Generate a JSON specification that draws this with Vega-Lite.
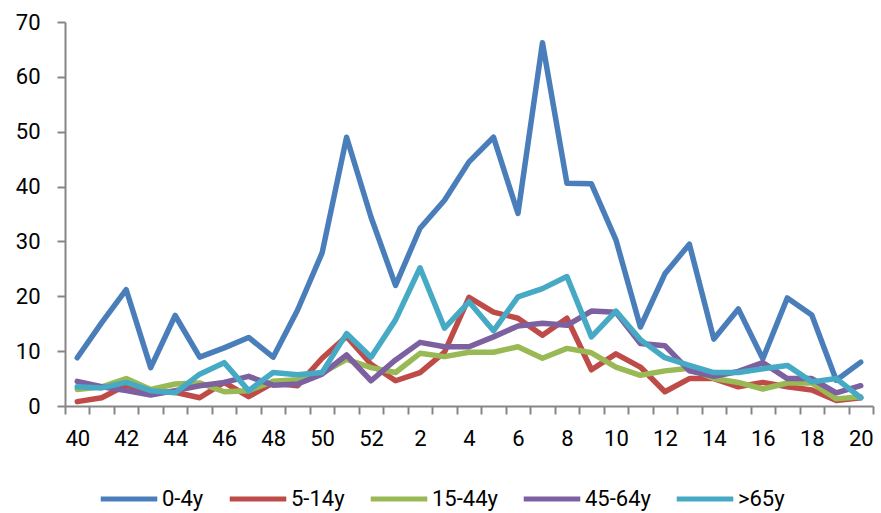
{
  "$schema": "https://vega.github.io/schema/vega-lite/v6.json",
  "width": 808,
  "height": 384,
  "autosize": {"type": "none"},
  "padding": {"left": 65, "top": 22, "right": 8, "bottom": 107},
  "background": "white",
  "config": {
    "view": {"stroke": null},
    "font": "Roboto, sans-serif",
    "axis": {
      "labelFont": "Roboto, sans-serif",
      "labelFontSize": 22,
      "labelColor": "#000000",
      "domainColor": "#868686",
      "domainWidth": 2,
      "tickColor": "#868686",
      "tickWidth": 2,
      "tickSize": 8,
      "grid": false,
      "title": null
    },
    "legend": {
      "labelFont": "Roboto, sans-serif",
      "labelFontSize": 22,
      "labelColor": "#000000"
    }
  },
  "data": {
    "values": [
      {"week": 40, "0-4y": 8.8, "5-14y": 0.8, "15-44y": 3.0, "45-64y": 4.5, ">65y": 3.5},
      {"week": 41, "0-4y": 15.2, "5-14y": 1.5, "15-44y": 3.5, "45-64y": 3.5, ">65y": 3.3},
      {"week": 42, "0-4y": 21.2, "5-14y": 3.8, "15-44y": 5.0, "45-64y": 2.8, ">65y": 4.3},
      {"week": 43, "0-4y": 7.0, "5-14y": 2.5, "15-44y": 3.0, "45-64y": 2.0, ">65y": 2.8},
      {"week": 44, "0-4y": 16.5, "5-14y": 2.5, "15-44y": 4.0, "45-64y": 2.8, ">65y": 2.4},
      {"week": 45, "0-4y": 8.9, "5-14y": 1.5, "15-44y": 4.2, "45-64y": 3.7, ">65y": 5.8},
      {"week": 46, "0-4y": 10.6, "5-14y": 4.3, "15-44y": 2.6, "45-64y": 4.3, ">65y": 7.9},
      {"week": 47, "0-4y": 12.5, "5-14y": 1.7, "15-44y": 2.8, "45-64y": 5.4, ">65y": 2.8},
      {"week": 48, "0-4y": 8.9, "5-14y": 4.2, "15-44y": 4.5, "45-64y": 3.8, ">65y": 6.1},
      {"week": 49, "0-4y": 17.5, "5-14y": 3.7, "15-44y": 4.8, "45-64y": 4.0, ">65y": 5.7},
      {"week": 50, "0-4y": 27.9, "5-14y": 8.7, "15-44y": 6.0, "45-64y": 5.8, ">65y": 6.1},
      {"week": 51, "0-4y": 49.0, "5-14y": 12.7, "15-44y": 8.5, "45-64y": 9.3, ">65y": 13.2},
      {"week": 52, "0-4y": 34.4, "5-14y": 7.6, "15-44y": 7.0, "45-64y": 4.6, ">65y": 8.9},
      {"week": 1, "0-4y": 22.0, "5-14y": 4.6, "15-44y": 6.1, "45-64y": 8.4, ">65y": 15.7},
      {"week": 2, "0-4y": 32.4, "5-14y": 6.1, "15-44y": 9.6, "45-64y": 11.6, ">65y": 25.2},
      {"week": 3, "0-4y": 37.5, "5-14y": 9.8, "15-44y": 9.0, "45-64y": 10.8, ">65y": 14.2},
      {"week": 4, "0-4y": 44.5, "5-14y": 19.8, "15-44y": 9.8, "45-64y": 10.8, ">65y": 19.0},
      {"week": 5, "0-4y": 49.0, "5-14y": 17.1, "15-44y": 9.8, "45-64y": 12.6, ">65y": 13.7},
      {"week": 6, "0-4y": 35.1, "5-14y": 16.0, "15-44y": 10.8, "45-64y": 14.6, ">65y": 19.9},
      {"week": 7, "0-4y": 66.2, "5-14y": 12.9, "15-44y": 8.7, "45-64y": 15.1, ">65y": 21.4},
      {"week": 8, "0-4y": 40.6, "5-14y": 16.0, "15-44y": 10.5, "45-64y": 14.7, ">65y": 23.6},
      {"week": 9, "0-4y": 40.5, "5-14y": 6.6, "15-44y": 9.7, "45-64y": 17.3, ">65y": 12.6},
      {"week": 10, "0-4y": 30.3, "5-14y": 9.5, "15-44y": 7.1, "45-64y": 17.1, ">65y": 17.3},
      {"week": 11, "0-4y": 14.4, "5-14y": 7.1, "15-44y": 5.6, "45-64y": 11.4, ">65y": 12.1},
      {"week": 12, "0-4y": 24.1, "5-14y": 2.6, "15-44y": 6.4, "45-64y": 11.0, ">65y": 8.8},
      {"week": 13, "0-4y": 29.5, "5-14y": 5.0, "15-44y": 6.9, "45-64y": 6.4, ">65y": 7.4},
      {"week": 14, "0-4y": 12.2, "5-14y": 5.0, "15-44y": 5.0, "45-64y": 5.4, ">65y": 6.1},
      {"week": 15, "0-4y": 17.7, "5-14y": 3.5, "15-44y": 4.3, "45-64y": 6.3, ">65y": 6.1},
      {"week": 16, "0-4y": 8.6, "5-14y": 4.3, "15-44y": 3.1, "45-64y": 7.9, ">65y": 6.8},
      {"week": 17, "0-4y": 19.7, "5-14y": 3.5, "15-44y": 4.2, "45-64y": 5.0, ">65y": 7.4},
      {"week": 18, "0-4y": 16.6, "5-14y": 2.9, "15-44y": 4.2, "45-64y": 5.0, ">65y": 4.4},
      {"week": 19, "0-4y": 4.7, "5-14y": 1.0, "15-44y": 1.3, "45-64y": 2.4, ">65y": 5.0},
      {"week": 20, "0-4y": 8.0, "5-14y": 1.5, "15-44y": 1.7, "45-64y": 3.7, ">65y": 1.5}
    ]
  },
  "transform": [
    {"fold": ["0-4y", "5-14y", "15-44y", "45-64y", ">65y"], "as": ["group", "value"]}
  ],
  "mark": {"type": "line", "strokeWidth": 5.5, "strokeJoin": "round", "strokeCap": "round"},
  "encoding": {
    "x": {
      "field": "week",
      "type": "ordinal",
      "sort": [40, 41, 42, 43, 44, 45, 46, 47, 48, 49, 50, 51, 52, 1, 2, 3, 4, 5, 6, 7, 8, 9, 10, 11, 12, 13, 14, 15, 16, 17, 18, 19, 20],
      "bandPosition": 0.5,
      "scale": {"type": "band", "paddingInner": 0, "paddingOuter": 0},
      "axis": {
        "labelAngle": 0,
        "tickBand": "extent",
        "labelPadding": 14,
        "labelOverlap": false,
        "labelExpr": "datum.value % 2 == 0 ? datum.label : ''"
      }
    },
    "y": {
      "field": "value",
      "type": "quantitative",
      "scale": {"domain": [0, 70], "nice": false},
      "axis": {"values": [0, 10, 20, 30, 40, 50, 60, 70], "labelPadding": 17}
    },
    "color": {
      "field": "group",
      "type": "nominal",
      "scale": {
        "domain": ["0-4y", "5-14y", "15-44y", "45-64y", ">65y"],
        "range": ["#4A7EBB", "#BE4B48", "#98B954", "#7D60A0", "#46AAC5"]
      },
      "legend": {
        "title": null,
        "orient": "none",
        "legendX": 33,
        "legendY": 446,
        "direction": "horizontal",
        "symbolType": "stroke",
        "symbolSize": 3200,
        "symbolStrokeWidth": 5,
        "labelOffset": 2,
        "columnPadding": 15
      }
    }
  }
}
